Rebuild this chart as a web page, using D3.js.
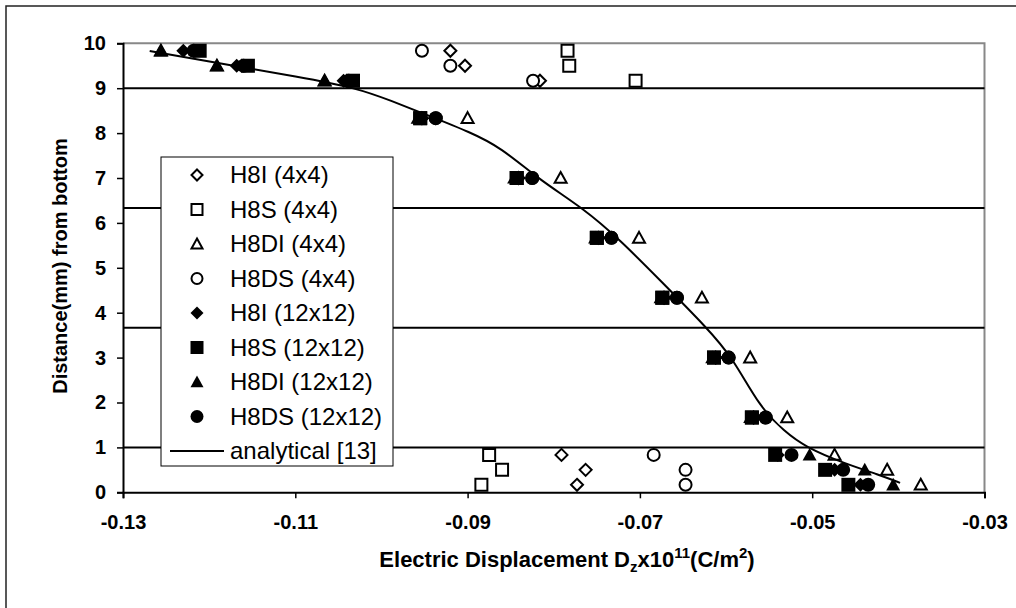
<!DOCTYPE html>
<html lang="en">
<head>
  <meta charset="UTF-8">
  <title>Electric displacement through thickness</title>
  <script src="https://d3js.org/d3.v7.min.js"></script>
  <style>
    body {
      margin: 0;
      background-color: #ffffff;
      font-family: Arial, 'Liberation Sans', sans-serif;
    }

    svg {
      display: block;
    }

    .tick text {
      font-size: 20px;
      font-weight: bold;
      fill: #000;
    }

    .axis-title {
      font-size: 20px;
      font-weight: bold;
    }

    .x-title {
      font-size: 22px;
    }

    .x-title .small {
      font-size: 15px;
    }

    .legend text {
      font-size: 24px;
    }
  </style>
</head>
<body>
  <svg width="1016" height="608"></svg>

  <script>
    // rows where the results were sampled (mm from bottom)
    const depth = [9.8333, 9.5, 9.1667, 8.3333, 7.0, 5.6667, 4.3333, 3.0, 1.6667, 0.8333, 0.5, 0.1667];

    // 4x4 meshes
    const h8i4 = [-0.0920, -0.0903, -0.0816, -0.0953, -0.0841, -0.0748, -0.0672, -0.0612, -0.0568, -0.0791, -0.0763, -0.0773];
    const h8s4 = [-0.0784, -0.0782, -0.0705, -0.0955, -0.0843, -0.0750, -0.0674, -0.0614, -0.0570, -0.0875, -0.0860, -0.0884];
    const h8di4 = [-0.1256, -0.1191, -0.1066, -0.0900, -0.0792, -0.0701, -0.0628, -0.0572, -0.0529, -0.0474, -0.0413, -0.0374];
    const h8ds4 = [-0.0953, -0.0920, -0.0824, -0.0937, -0.0825, -0.0733, -0.0657, -0.0597, -0.0554, -0.0684, -0.0647, -0.0647];

    // 12x12 meshes
    const h8i12 = [-0.1230, -0.1168, -0.1044, -0.0953, -0.0841, -0.0748, -0.0672, -0.0612, -0.0568, -0.0540, -0.0474, -0.0444];
    const h8s12 = [-0.1211, -0.1155, -0.1033, -0.0955, -0.0843, -0.0750, -0.0674, -0.0614, -0.0570, -0.0543, -0.0485, -0.0458];
    const h8di12 = [-0.1256, -0.1191, -0.1066, -0.0958, -0.0846, -0.0752, -0.0676, -0.0616, -0.0572, -0.0503, -0.0439, -0.0406];
    const h8ds12 = [-0.1218, -0.1160, -0.1038, -0.0937, -0.0825, -0.0733, -0.0657, -0.0597, -0.0554, -0.0524, -0.0464, -0.0435];

    // analytical solution [13]
    const anaX = [-0.1269, -0.1191, -0.1095, -0.1028, -0.0990, -0.0944, -0.0897, -0.0862, -0.0816, -0.0766, -0.0723, -0.0677, -0.0622, -0.0592, -0.0561, -0.0532, -0.0508, -0.0464, -0.0422, -0.0398];
    const anaY = [9.83, 9.56, 9.25, 9.0, 8.73, 8.38, 8.02, 7.69, 6.95, 6.33, 5.62, 4.73, 3.66, 2.99, 1.90, 1.35, 1.01, 0.65, 0.39, 0.21];

    const xTicks = [-0.13, -0.11, -0.09, -0.07, -0.05, -0.03];
    const yTicks = [0, 1, 2, 3, 4, 5, 6, 7, 8, 9, 10];
    const layerLines = [1, 3.6667, 6.3333, 9];

    const series = [
      { name: "H8I (4x4)", shape: "diamond", filled: false, xs: h8i4 },
      { name: "H8S (4x4)", shape: "square", filled: false, xs: h8s4 },
      { name: "H8DI (4x4)", shape: "triangle", filled: false, xs: h8di4 },
      { name: "H8DS (4x4)", shape: "circle", filled: false, xs: h8ds4 },
      { name: "H8I (12x12)", shape: "diamond", filled: true, xs: h8i12 },
      { name: "H8S (12x12)", shape: "square", filled: true, xs: h8s12 },
      { name: "H8DI (12x12)", shape: "triangle", filled: true, xs: h8di12 },
      { name: "H8DS (12x12)", shape: "circle", filled: true, xs: h8ds12 }
    ];

    const svg = d3.select("svg");
    const pLeft = 123, pRight = 984.5, pTop = 43.3, pBottom = 492.3;

    const x = d3.scaleLinear().domain([-0.13, -0.03]).range([pLeft, pRight]);
    const y = d3.scaleLinear().domain([0, 10]).range([pBottom, pTop]);

    // outer chart frame (runs off the bottom/right edge like the original)
    svg.append("rect")
      .attr("x", 6).attr("y", 6)
      .attr("width", 1030).attr("height", 620)
      .attr("fill", "none")
      .attr("stroke", "#222")
      .attr("stroke-width", 1.5);

    // marker path, r = half size
    function marker(shape, r) {
      if (shape === "square") return `M${-r},${-r}H${r}V${r}H${-r}Z`;
      if (shape === "diamond") return `M0,${-r}L${r},0L0,${r}L${-r},0Z`;
      if (shape === "triangle") return `M0,${-r}L${r},${r * 0.8}L${-r},${r * 0.8}Z`;
      return d3.arc()({ innerRadius: 0, outerRadius: r, startAngle: 0, endAngle: 2 * Math.PI });
    }

    // plot border top / right
    svg.append("path")
      .attr("d", `M${pLeft},${pTop}H${pRight}V${pBottom}`)
      .attr("fill", "none")
      .attr("stroke", "#888")
      .attr("stroke-width", 2);

    // layer interfaces
    svg.selectAll("line.layer")
      .data(layerLines)
      .enter()
      .append("line")
      .attr("class", "layer")
      .attr("x1", pLeft).attr("x2", pRight)
      .attr("y1", d => y(d)).attr("y2", d => y(d))
      .attr("stroke", "#000")
      .attr("stroke-width", 2);

    // axes
    const gx = svg.append("g")
      .attr("transform", `translate(0,${pBottom})`)
      .call(d3.axisBottom(x).tickValues(xTicks).tickFormat(d => d.toFixed(2)).tickSizeOuter(0).tickSize(6).tickPadding(17));
    const gy = svg.append("g")
      .attr("transform", `translate(${pLeft},0)`)
      .call(d3.axisLeft(y).tickValues(yTicks).tickFormat(d => d).tickSizeOuter(0).tickSize(6).tickPadding(11));
    [gx, gy].forEach(g => {
      g.select(".domain").attr("stroke", "#000").attr("stroke-width", 2);
      g.selectAll(".tick line").attr("stroke", "#000").attr("stroke-width", 1.5);
      g.attr("font-family", null).attr("font-size", null);
    });

    // markers, drawn in series order so 12x12 sit on top
    series.forEach(s => {
      svg.append("g")
        .selectAll("path")
        .data(s.xs.map((v, i) => [v, depth[i]]))
        .enter()
        .append("path")
        .attr("transform", d => `translate(${x(d[0])},${y(d[1])})`)
        .attr("d", marker(s.shape, s.filled ? 7 : 6))
        .attr("fill", s.filled ? "#000" : "#fff")
        .attr("stroke", "#000")
        .attr("stroke-width", s.filled ? 0 : 2);
    });

    // analytical curve (smoothed like the spreadsheet line)
    const line = d3.line()
      .x(d => x(d[0]))
      .y(d => y(d[1]))
      .curve(d3.curveBasis);
    svg.append("path")
      .datum(anaX.map((v, i) => [v, anaY[i]]))
      .attr("d", line)
      .attr("fill", "none")
      .attr("stroke", "#000")
      .attr("stroke-width", 2);

    // axis titles
    const xt = svg.append("text")
      .attr("class", "axis-title x-title")
      .attr("x", 567)
      .attr("y", 567)
      .attr("text-anchor", "middle");
    xt.append("tspan").text("Electric Displacement D");
    xt.append("tspan").attr("class", "small").attr("dy", 5).text("z");
    xt.append("tspan").attr("dy", -5).text("x10");
    xt.append("tspan").attr("class", "small").attr("dy", -9).text("11");
    xt.append("tspan").attr("dy", 9).text("(C/m");
    xt.append("tspan").attr("class", "small").attr("dy", -9).text("2");
    xt.append("tspan").attr("dy", 9).text(")");

    svg.append("text")
      .attr("class", "axis-title")
      .attr("transform", "translate(67,266) rotate(-90)")
      .attr("text-anchor", "middle")
      .text("Distance(mm) from bottom");

    // legend
    const legend = svg.append("g").attr("class", "legend");
    legend.append("rect")
      .attr("x", 161).attr("y", 157)
      .attr("width", 232).attr("height", 309)
      .attr("fill", "#fff")
      .attr("stroke", "#000")
      .attr("stroke-width", 1);

    const item = legend.selectAll("g.item")
      .data(series.concat([{ name: "analytical [13]", shape: "line" }]))
      .enter()
      .append("g")
      .attr("class", "item")
      .attr("transform", (d, i) => `translate(197,${175 + i * 34.5})`);

    item.filter(d => d.shape !== "line")
      .append("path")
      .attr("d", d => marker(d.shape, d.filled ? 6.5 : 5.5))
      .attr("fill", d => d.filled ? "#000" : "#fff")
      .attr("stroke", "#000")
      .attr("stroke-width", d => d.filled ? 0 : 2);

    item.filter(d => d.shape === "line")
      .append("line")
      .attr("x1", -27).attr("x2", 27)
      .attr("stroke", "#000")
      .attr("stroke-width", 2);

    item.append("text")
      .attr("x", 33)
      .attr("dy", "0.35em")
      .text(d => d.name);
  </script>
</body>
</html>
